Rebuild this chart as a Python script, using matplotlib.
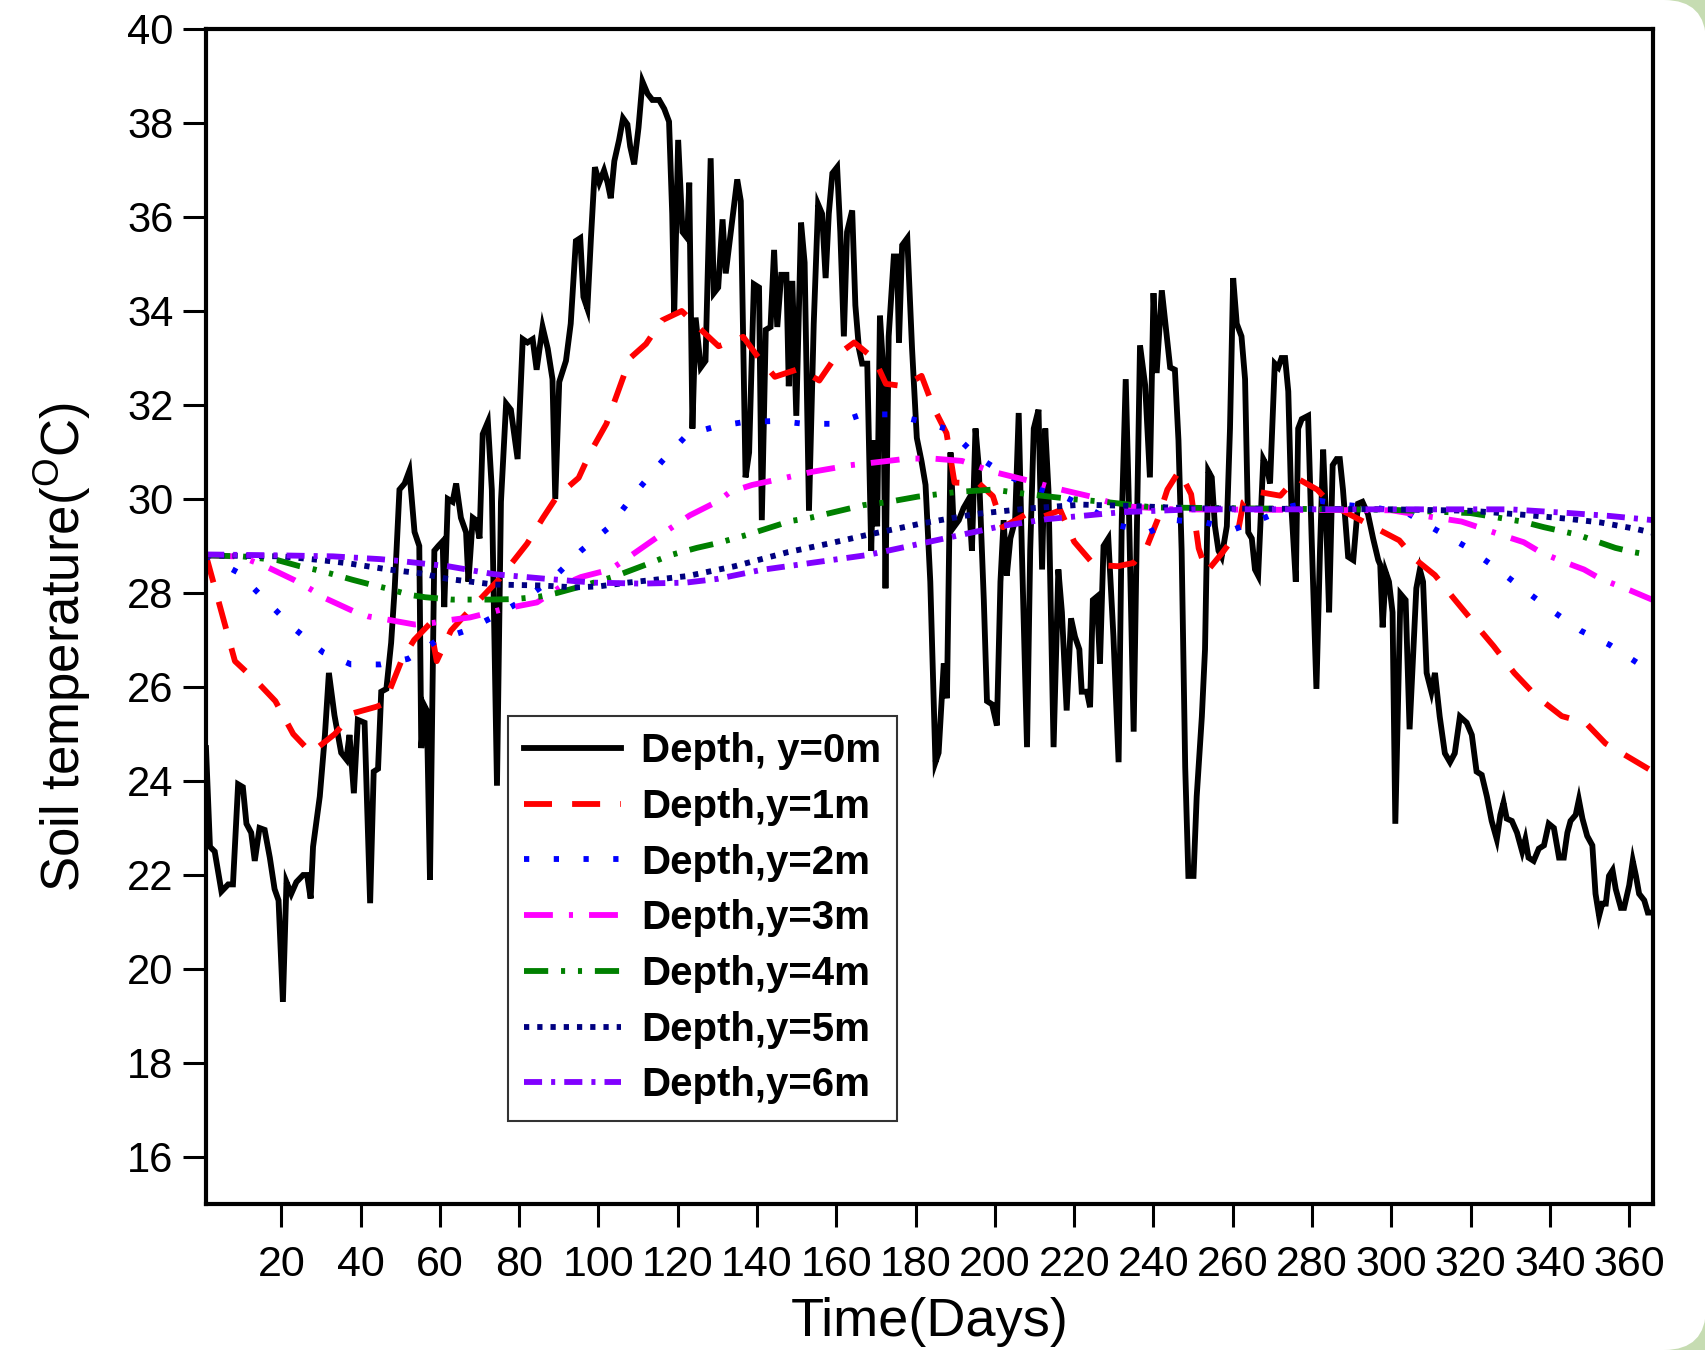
import matplotlib
matplotlib.use("Agg")
import matplotlib.pyplot as plt
from matplotlib.patches import Rectangle, FancyBboxPatch
from matplotlib.transforms import IdentityTransform

plt.rcParams['font.family'] = ['Liberation Sans', 'DejaVu Sans']
plt.rcParams['mathtext.fontset'] = 'custom'
plt.rcParams['mathtext.rm'] = 'Liberation Sans'
plt.rcParams['mathtext.bf'] = 'Liberation Sans:bold'

# (day, temperature)
surface = [
    (1, 24.7), (2, 22.6), (3.2, 22.5), (4.9, 21.65), (6.6, 21.8), (7.8, 21.8), (9.1, 23.93), (10.3, 23.87),
    (11.2, 23.09), (12.4, 22.9), (13.3, 22.3), (14.5, 23.0), (15.8, 22.96), (17.1, 22.37), (18.3, 21.7),
    (19.3, 21.46), (20.4, 19.3), (21.3, 21.85), (22.5, 21.6), (23.8, 21.85), (25.5, 22.0), (26.5, 22.0),
    (27.4, 21.5), (28, 22.6), (29.7, 23.67), (31, 24.98), (32, 26.3), (33.4, 25.4), (35.1, 24.6), (36.4, 24.46),
    (37.2, 24.98), (38.3, 23.74), (39.3, 25.3), (41, 25.24), (42.4, 21.4), (43.3, 24.2), (44.4, 24.26),
    (45.2, 25.9), (46.5, 25.96), (47.7, 26.94), (48.6, 28.1), (49.8, 30.2), (51.1, 30.33), (52.3, 30.6),
    (53.6, 29.3), (54.8, 29.0), (55.3, 24.7), (56.1, 25.6), (56.7, 25.5), (57.5, 21.9), (58.6, 28.9),
    (59.6, 29.0), (60.7, 29.1), (61.1, 27.7), (62, 30.0), (63.2, 29.94), (64.1, 30.33), (65.3, 29.6),
    (66.6, 29.29), (67.2, 28.24), (68.3, 29.6), (69.1, 29.55), (70, 29.16), (70.8, 31.38), (72.1, 31.64),
    (73.1, 30.2), (74.4, 23.9), (75.4, 29.94), (76.7, 32.03), (77.9, 31.9), (79.6, 30.85), (80.9, 33.4),
    (82.1, 33.33), (83.4, 33.4), (84.4, 32.75), (85.9, 33.66), (87.2, 33.2), (88.4, 32.55), (89.1, 30.0),
    (90.1, 32.49), (91.8, 32.94), (93, 33.73), (94.3, 35.49), (95.4, 35.55), (96.2, 34.3), (97.2, 34.05),
    (98.1, 35.55), (99.1, 37.06), (100.2, 36.73), (101.4, 36.99), (102.3, 36.73), (103.1, 36.4), (104, 37.19),
    (105.2, 37.64), (106.2, 38.1), (107.3, 37.97), (108, 37.5), (109, 37.12), (110.1, 37.9), (111.1, 38.88),
    (112.4, 38.62), (113.6, 38.49), (115.3, 38.49), (116.6, 38.3), (117.8, 38.03), (118.6, 36.07),
    (119.1, 33.9), (120.1, 37.64), (121.2, 35.68), (122.4, 35.55), (122.9, 36.73), (123.7, 31.5),
    (124.5, 33.86), (125.8, 32.8), (127, 32.94), (128.3, 37.25), (129.1, 34.38), (130.2, 34.5),
    (131.3, 35.95), (132.1, 34.8), (133.4, 35.7), (135, 36.8), (135.9, 36.34), (137.1, 30.46), (138, 30.99),
    (139.2, 34.57), (140.5, 34.5), (141.2, 29.55), (142.2, 33.6), (143.4, 33.66), (144.3, 35.3),
    (145.1, 33.66), (146.1, 34.77), (147.4, 34.77), (148, 32.4), (148.9, 34.64), (149.9, 31.77),
    (151.1, 35.88), (152, 35.03), (153.1, 29.75), (154.3, 33.73), (155.4, 36.27), (156.4, 36.07),
    (157.3, 34.7), (158.1, 36.07), (159, 36.93), (160.2, 37.06), (161, 35.68), (161.9, 33.46), (162.7, 35.68),
    (164, 36.14), (164.8, 34.12), (165.7, 33.2), (166.5, 32.88), (167.8, 32.88), (168.8, 28.9), (169.5, 31.25),
    (170.3, 29.42), (171, 33.9), (171.8, 32.8), (172.4, 28.1), (173.2, 33.46), (174.5, 35.16), (175.3, 35.16),
    (175.8, 33.33), (176.6, 35.4), (177.9, 35.55), (179.1, 33.2), (180.3, 31.3), (181.5, 30.8), (182.5, 30.3),
    (183.7, 28.24), (185, 24.4), (185.8, 24.6), (187.1, 26.5), (187.9, 25.76), (188.8, 30.99), (189.6, 29.4),
    (190.9, 29.55), (192.1, 29.81), (193.4, 30.0), (194.2, 28.9), (195.1, 31.5), (195.9, 30.72),
    (197.2, 27.85), (198, 25.7), (199.3, 25.63), (200.5, 25.18), (201.4, 28.24), (202.2, 29.55), (203, 28.37),
    (203.9, 29.16), (205.1, 29.55), (206, 31.83), (206.8, 28.9), (208.1, 24.72), (208.9, 28.9), (209.8, 31.5),
    (211, 31.9), (211.9, 28.5), (212.7, 31.5), (213.5, 30.2), (214.8, 24.72), (216, 28.5), (216.9, 27.59),
    (218.1, 25.5), (219.2, 27.46), (220.2, 27.07), (221.3, 26.8), (221.9, 25.9), (223.2, 25.9), (224, 25.57),
    (224.7, 27.85), (225.7, 27.92), (226.5, 26.5), (227.4, 29.0), (228.6, 29.16), (229.9, 27.07),
    (231.2, 24.4), (232, 29.55), (233, 32.55), (233.7, 30.2), (235, 25.05), (235.8, 29.29), (236.6, 33.27),
    (237.9, 32.42), (239.1, 30.46), (240, 34.38), (240.8, 32.68), (242.1, 34.44), (243.3, 33.5),
    (244.2, 32.8), (245.4, 32.75), (246.3, 31.25), (247.1, 28.9), (248, 24.3), (248.8, 21.98), (250.1, 21.98),
    (250.9, 23.67), (252.2, 25.37), (253, 26.8), (253.8, 30.6), (254.7, 30.46), (255.5, 29.42), (256.4, 28.9),
    (257.2, 28.77), (258.5, 29.42), (259.3, 31.5), (260.1, 34.7), (261, 33.73), (262.2, 33.46), (263.1, 32.55),
    (263.9, 29.29), (264.8, 29.16), (265.6, 28.5), (266.4, 28.37), (267.7, 30.85), (268.5, 30.72),
    (269.4, 30.33), (270.6, 32.88), (271.5, 32.8), (272.3, 33.0), (273.2, 33.0), (274, 32.29), (274.8, 29.8),
    (275.9, 28.24), (276.5, 31.5), (277.4, 31.7), (279, 31.77), (279.9, 29.16), (281.1, 25.96), (282, 28.9),
    (282.8, 31.05), (283.6, 29.42), (284.3, 27.59), (285.2, 30.72), (286.2, 30.85), (287, 30.85),
    (287.8, 30.2), (289.1, 28.77), (290.4, 28.7), (291.6, 29.9), (292.7, 29.94), (294.1, 29.68),
    (295.4, 29.16), (296.7, 28.7), (297.2, 28.6), (297.8, 27.27), (298.6, 28.44), (299.4, 28.24),
    (300.3, 27.59), (301, 23.09), (302.3, 27.98), (303.6, 27.85), (304.6, 25.1), (306.3, 28.1), (307.2, 28.5),
    (308, 28.24), (308.9, 26.3), (310.1, 25.9), (311, 26.3), (312.2, 25.37), (313.5, 24.59), (314.8, 24.4),
    (316, 24.59), (317.3, 25.37), (319, 25.24), (320.3, 24.98), (321.5, 24.2), (322.8, 24.13), (324.1, 23.67),
    (325.3, 23.15), (326.6, 22.76), (327.5, 23.28), (328.3, 23.54), (329.1, 23.2), (330.4, 23.15),
    (331.7, 22.9), (333, 22.5), (333.8, 22.76), (334.6, 22.37), (335.9, 22.3), (337.2, 22.56), (338.5, 22.63),
    (339.7, 23.09), (341, 23.0), (342.3, 22.37), (343.5, 22.37), (344.4, 22.9), (345.2, 23.15),
    (346.5, 23.28), (347.3, 23.6), (348.2, 23.2), (349.4, 22.83), (350.7, 22.63), (351.5, 21.6),
    (352.4, 21.13), (353.2, 21.39), (354.1, 21.39), (354.9, 21.98), (355.8, 22.1), (356.6, 21.7),
    (357.9, 21.3), (358.7, 21.3), (360, 21.78), (360.9, 22.3), (361.7, 21.98), (362.5, 21.6), (363.8, 21.46),
    (364.7, 21.2), (366, 21.2),
]

depth1 = [
    (1, 28.8), (8.3, 26.55), (14, 26.1), (18.5, 25.7), (23, 25.0), (27.5, 24.6), (33.5, 25.0), (38, 25.44),
    (44, 25.58), (46, 25.65), (50.5, 26.6), (53.5, 27.0), (57.5, 27.35), (59.2, 26.55), (62.8, 27.2),
    (66, 27.5), (75, 28.3), (82, 29.05), (86, 29.6), (89.5, 30.05), (95, 30.45), (98, 31.0), (102, 31.6),
    (105, 32.3), (108, 33.0), (112, 33.3), (116, 33.8), (121, 34.0), (126.5, 33.55), (130.3, 33.25),
    (136.5, 33.45), (140, 33.05), (144.5, 32.6), (150.6, 32.77), (155.7, 32.52), (160, 33.05), (164.5, 33.33),
    (169.6, 32.98), (172.5, 32.45), (177, 32.4), (181.5, 32.62), (184.5, 31.95), (187.8, 31.4), (189.8, 30.35),
    (196, 30.33), (199.5, 30.06), (202, 29.4), (208, 29.68), (212, 29.62), (216.5, 29.76), (220, 29.09),
    (225, 28.6), (231, 28.57), (235, 28.64), (238.4, 29.0), (241, 29.55), (243.5, 30.2), (246.5, 30.6),
    (249.5, 30.1), (251.4, 28.95), (253.4, 28.45), (257.3, 28.85), (261.3, 29.3), (262.7, 29.94),
    (266.5, 30.15), (272, 30.07), (276, 30.45), (281.3, 30.2), (285, 29.87), (302, 29.12), (306, 28.72),
    (311, 28.38), (315.6, 27.9), (320.5, 27.4), (325.8, 26.87), (331, 26.3), (336.6, 25.8), (343, 25.38),
    (349, 25.24), (354, 24.8), (360, 24.5), (366, 24.2),
]

depth2 = [
    (1, 28.8), (9, 28.44), (16, 27.85), (23, 27.26), (30.5, 26.74), (37.6, 26.48), (45, 26.48), (52, 26.6),
    (59.5, 27.0), (66.6, 27.2), (73.7, 27.5), (81, 27.85), (88.4, 28.3), (95.6, 28.9), (102.7, 29.4),
    (109.4, 30.14), (116, 30.8), (122.5, 31.38), (130, 31.55), (137, 31.64), (145, 31.66), (152, 31.6),
    (159.5, 31.6), (166.5, 31.8), (173.6, 31.8), (181, 31.66), (188.3, 31.48), (195.6, 30.9), (203, 30.5),
    (210, 30.24), (217.5, 30.05), (224.3, 29.77), (231.5, 29.43), (239, 29.3), (245.5, 29.55), (253, 29.5),
    (260.5, 29.36), (268, 29.6), (275, 29.85), (282, 29.96), (289, 29.87), (297, 29.8), (304.4, 29.68),
    (311.3, 29.34), (318.5, 29.0), (325.8, 28.57), (333, 28.1), (340.4, 27.63), (347.7, 27.2), (355, 26.9),
    (362.3, 26.5), (366, 26.35),
]

depth3 = [
    (1, 28.8), (8, 28.78), (12, 28.7), (16, 28.57), (23.4, 28.27), (27, 28.1), (31.3, 27.88), (38.5, 27.6),
    (42, 27.5), (47, 27.43), (53.6, 27.33), (58, 27.36), (62, 27.42), (67.6, 27.48), (76.6, 27.67),
    (84.5, 27.8), (91.7, 28.2), (95.6, 28.34), (103, 28.5), (107.4, 28.75), (114.7, 29.18), (123, 29.65),
    (130.3, 29.96), (133.2, 30.15), (138.8, 30.3), (146, 30.43), (154, 30.58), (163.6, 30.72), (169, 30.77),
    (178, 30.86), (184.4, 30.86), (191.7, 30.81), (199.5, 30.58), (209, 30.38), (214.7, 30.24),
    (224.3, 30.05), (232, 29.85), (245, 29.78), (300, 29.76), (310, 29.62), (317.7, 29.52), (322, 29.4),
    (329, 29.2), (333.4, 29.08), (338, 28.85), (344.8, 28.62), (348.6, 28.5), (352.8, 28.3), (360.4, 28.05),
    (366, 27.85),
]

depth4 = [
    (1, 28.8), (10, 28.78), (19, 28.7), (24.6, 28.57), (28.4, 28.5), (33, 28.4), (38, 28.28), (43, 28.17),
    (46.5, 28.1), (52.4, 27.96), (56.3, 27.91), (63, 27.86), (72.6, 27.86), (78.7, 27.87), (85, 27.92),
    (89.5, 28.0), (95.6, 28.14), (104, 28.35), (112.5, 28.62), (118.3, 28.81), (124.8, 28.96), (130, 29.06),
    (137.6, 29.24), (148.4, 29.53), (153.4, 29.6), (166.9, 29.87), (172.6, 29.93), (180.5, 30.05),
    (190.5, 30.15), (199.5, 30.2), (208.6, 30.1), (219.2, 30.0), (227.6, 29.94), (240, 29.82), (300, 29.77),
    (320, 29.7), (333, 29.52), (338.5, 29.4), (347, 29.24), (351.7, 29.1), (356.5, 28.96), (361, 28.87),
    (366, 28.8),
]

depth5 = [
    (1, 28.8), (20, 28.78), (30, 28.7), (37, 28.63), (47, 28.5), (55, 28.42), (62, 28.3), (73.7, 28.18),
    (85.5, 28.16), (94, 28.12), (100, 28.14), (107.3, 28.22), (114, 28.28), (122.4, 28.36), (134.4, 28.57),
    (147.8, 28.87), (158, 29.05), (168, 29.24), (181.5, 29.48), (195, 29.68), (208.6, 29.8), (222, 29.88),
    (235, 29.85), (250, 29.8), (300, 29.78), (320, 29.75), (334, 29.66), (344.4, 29.58), (352.8, 29.5),
    (361.3, 29.37), (366, 29.28),
]

depth6 = [
    (1, 28.82), (20, 28.8), (33, 28.78), (45, 28.72), (50, 28.68), (62, 28.57), (73.7, 28.4), (87, 28.3),
    (99, 28.22), (111, 28.2), (122, 28.22), (130, 28.3), (141, 28.49), (157, 28.68), (168, 28.81),
    (184, 29.1), (202, 29.43), (213, 29.57), (232, 29.72), (250, 29.78), (330, 29.78), (345, 29.7),
    (355, 29.64), (366, 29.55),
]

labels = ["Depth, y=0m", "Depth,y=1m", "Depth,y=2m", "Depth,y=3m",
          "Depth,y=4m", "Depth,y=5m", "Depth,y=6m"]
colors = ["#000000", "#ff0000", "#0000ff", "#ff00ff", "#008000", "#000080", "#8000ff"]
dashes = [None, (4.8, 3.45), (0.9, 4.2), (4.95, 2.75, 0.7, 2.75),
          (4.15, 2.2, 0.7, 2.2, 0.7, 2.2), (0.9, 1.37), (3.1, 1.55, 0.7, 1.55)]
series = [surface, depth1, depth2, depth3, depth4, depth5, depth6]

fig = plt.figure(figsize=(17.06, 13.5), dpi=100)

# rounded white card on a pale green background (visible only at the right corners)
fig.add_artist(Rectangle((0, 0), 1706, 1350, transform=IdentityTransform(),
                         facecolor="#c6dcb2", edgecolor="none", zorder=-20))
fig.add_artist(FancyBboxPatch((-200, 0), 1906, 1350, boxstyle="round,pad=0,rounding_size=42",
                              transform=IdentityTransform(), facecolor="white",
                              edgecolor="none", zorder=-19))

ax = fig.add_axes([0.12075, 0.10815, 0.84818, 0.87037])
ax.patch.set_alpha(0)

for data, lab, col, dsh in zip(series, labels, colors, dashes):
    xs = [d for d, _ in data]
    ys = [t for _, t in data]
    line, = ax.plot(xs, ys, color=col, lw=4.2, label=lab, solid_joinstyle="miter")
    if dsh is not None:
        line.set_dashes(dsh)

ax.set_xlim(1, 366)
ax.set_ylim(15, 40)
ax.set_xticks(range(20, 361, 20))
ax.set_yticks(range(16, 41, 2))

for sp in ax.spines.values():
    sp.set_linewidth(3.0)
ax.tick_params(axis="both", which="both", direction="out", length=16.5, width=2.2,
               top=False, right=False)
ax.tick_params(axis="x", labelsize=31, pad=13)
ax.tick_params(axis="y", labelsize=30, pad=7)

ax.set_xlabel("Time(Days)", fontsize=39)
ax.set_ylabel(r"Soil temperature($^{\mathrm{O}}$C)", fontsize=38)
ax.xaxis.set_label_coords(0.5, -0.0795)
ax.yaxis.set_label_coords(-0.078, 0.474)

leg = ax.legend(loc="upper left", bbox_to_anchor=(0.2087, 0.4153), borderaxespad=0,
                prop={"weight": "bold", "size": 29}, handlelength=2.4, handletextpad=0.5,
                labelspacing=0.44, borderpad=0.4, fancybox=False, framealpha=1)
leg.get_frame().set_edgecolor("#333333")
leg.get_frame().set_linewidth(1.5)

fig.savefig("out.png", dpi=100)
